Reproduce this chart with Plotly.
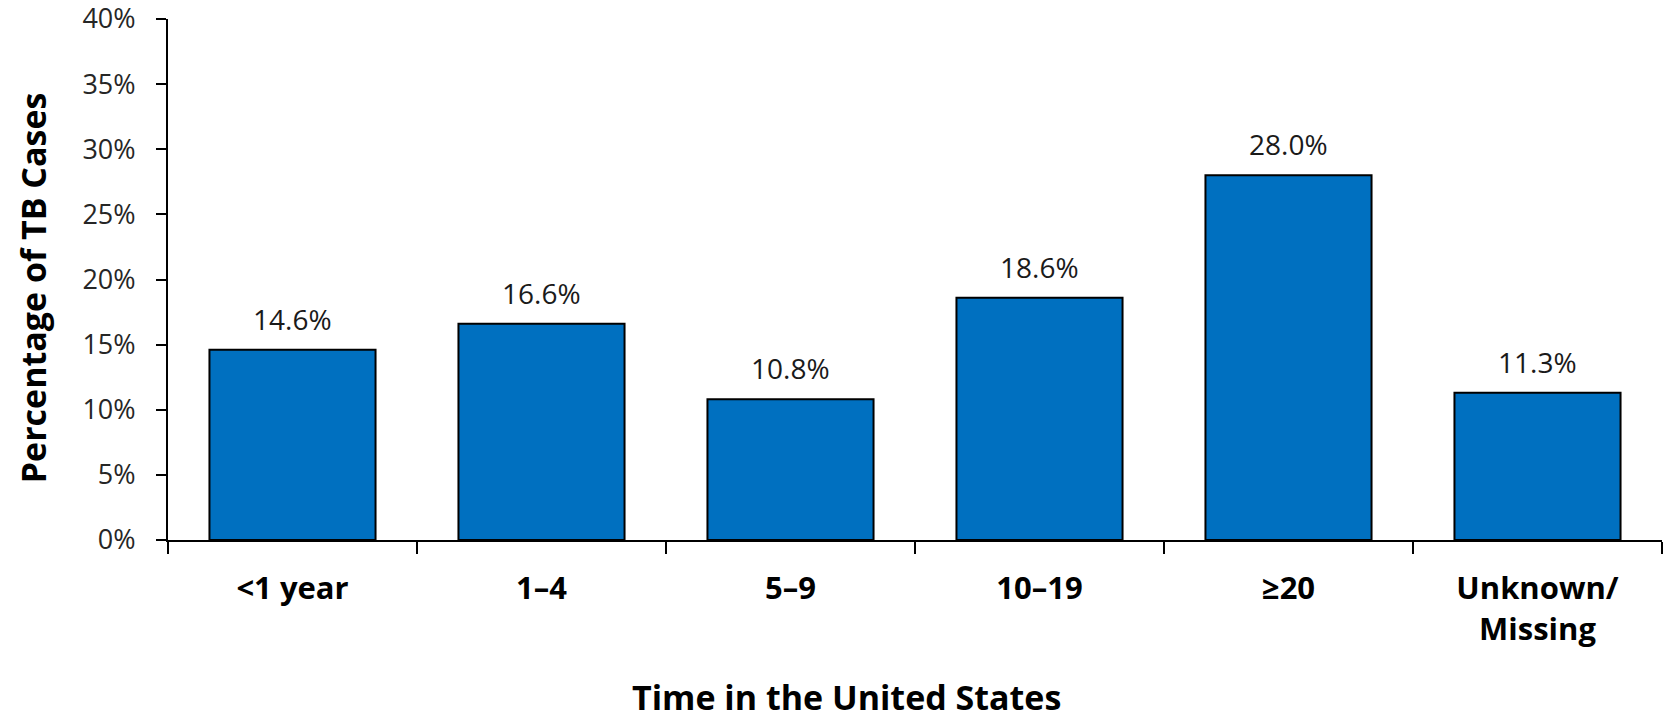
import plotly.graph_objects as go

categories = ["<1 year", "1–4", "5–9", "10–19", "≥20", "Unknown/<br>Missing"]
values = [14.6, 16.6, 10.8, 18.6, 28.0, 11.3]
y_ticks = [0, 5, 10, 15, 20, 25, 30, 35, 40]
y_tick_labels = [f"{v}%" for v in y_ticks]

FONT = "Open Sans, Noto Sans, sans-serif"

fig = go.Figure()
fig.add_trace(go.Bar(
    x=categories,
    y=values,
    marker=dict(color="#0070C0", line=dict(color="#000000", width=2)),
    hoverinfo="x+y",
))

annotations = []
for c, v in zip(categories, values):
    annotations.append(dict(
        x=c, y=v, xref="x", yref="y", text=f"{v:.1f}%",
        showarrow=False, yanchor="bottom", yshift=10,
        font=dict(family=FONT, size=28, color="#1a1a1a"),
    ))
annotations.append(dict(
    x=-0.0904, y=0.485, xref="paper", yref="paper", text="<b>Percentage of TB Cases</b>",
    showarrow=False, textangle=-90, xanchor="center", yanchor="middle",
    font=dict(family=FONT, size=34, color="#000000"),
))
annotations.append(dict(
    x=0.454, y=-0.302, xref="paper", yref="paper", text="<b>Time in the United States</b>",
    showarrow=False, xanchor="center", yanchor="middle",
    font=dict(family=FONT, size=34, color="#000000"),
))

fig.update_layout(
    width=1664, height=722,
    margin=dict(l=168, r=2, t=19, b=182),
    paper_bgcolor="white", plot_bgcolor="white",
    bargap=0.333,
    showlegend=False,
    annotations=annotations,
    xaxis=dict(
        type="category", automargin=False,
        showline=True, linecolor="#000000", linewidth=2,
        ticks="outside", tickson="boundaries", ticklen=12, tickwidth=2, tickcolor="#000000",
        tickfont=dict(family=FONT, size=31, color="#000000"),
        showgrid=False, zeroline=False,
        ticklabelstandoff=20,
    ),
    yaxis=dict(
        range=[0, 40], automargin=False, ticklabeloverflow="allow",
        tickvals=y_ticks, ticktext=y_tick_labels,
        showline=True, linecolor="#000000", linewidth=2,
        ticks="outside", ticklen=10, tickwidth=2, tickcolor="#000000",
        tickfont=dict(family=FONT, size=27, color="#262626"),
        showgrid=False, zeroline=False,
        ticklabelstandoff=15,
    ),
)
fig.update_xaxes(tickprefix="<b>", ticksuffix="</b>")

# remove the default 8px page margin so the figure fills the window exactly
fig.write_html(
    "out.html",
    config={"displayModeBar": False},
    post_script="document.body.style.margin='0px';",
)
